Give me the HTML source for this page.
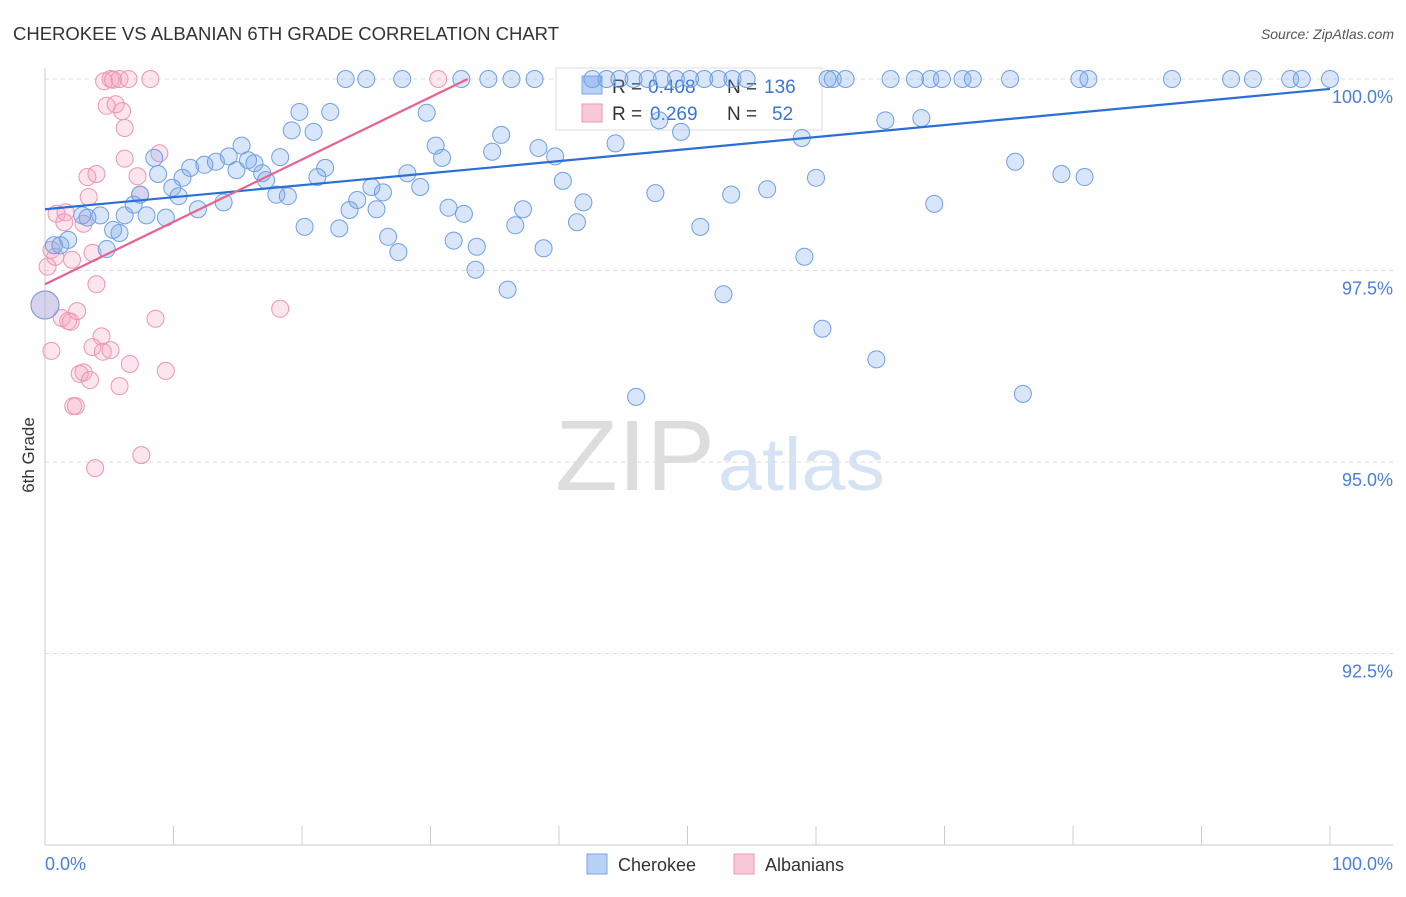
<!DOCTYPE html>
<html><head><meta charset="utf-8"><style>
body{margin:0;background:#fff;font-family:"Liberation Sans",sans-serif}
svg text{font-family:"Liberation Sans",sans-serif}
</style></head><body>
<svg id="chart" width="1406" height="892" xmlns="http://www.w3.org/2000/svg">
<text x="13" y="40" font-size="18" fill="#333" textLength="546" lengthAdjust="spacingAndGlyphs">CHEROKEE VS ALBANIAN 6TH GRADE CORRELATION CHART</text>
<text x="1394" y="39" font-size="14" fill="#555" text-anchor="end" font-style="italic">Source: ZipAtlas.com</text>
<g>
<text x="555" y="490" font-size="100" fill="#ddd" font-family="Liberation Serif" textLength="160" lengthAdjust="spacingAndGlyphs">ZIP</text>
<text x="718" y="490" font-size="74" fill="#d5e3f5" textLength="167" lengthAdjust="spacingAndGlyphs">atlas</text>
</g>
<text transform="translate(34,455) rotate(-90)" font-size="17" fill="#333" text-anchor="middle">6th Grade</text>
<g id="grid"></g><g id="axes"></g>
<g>
<rect x="556" y="68" width="266" height="62" fill="#fff" stroke="#ddd"/>
<rect x="582" y="76" width="20" height="18" fill="#b8d0f5" stroke="#7aa6e8"/>
<rect x="582" y="104" width="20" height="18" fill="#f9c8d7" stroke="#ee9ab5"/>
<text y="93" font-size="19" fill="#333"><tspan x="612">R =</tspan><tspan x="648" fill="#3b73d6">0.408</tspan><tspan x="727">N =</tspan><tspan x="764" fill="#3b73d6">136</tspan></text>
<text y="120" font-size="19" fill="#333"><tspan x="612">R =</tspan><tspan x="650" fill="#3b73d6">0.269</tspan><tspan x="727">N =</tspan><tspan x="772" fill="#3b73d6">52</tspan></text>
</g>
<g id="pink"></g><g id="blue"></g><g id="lines"></g>
<g>
<rect x="587" y="854" width="20" height="20" fill="#b8d0f5" stroke="#7aa6e8"/>
<text x="618" y="871" font-size="18" fill="#333">Cherokee</text>
<rect x="734" y="854" width="20" height="20" fill="#f9c8d7" stroke="#ee9ab5"/>
<text x="765" y="871" font-size="18" fill="#333">Albanians</text>
</g>
</svg>
<script>
const yTicks=[100,97.5,95,92.5];
const yTickLabels=["100.0%","97.5%","95.0%","92.5%"];
const blueTopX=[23.4,25.0,27.8,32.4,34.5,36.3,38.1,42.6,43.7,44.7,45.8,46.9,48.0,49.1,50.2,51.3,52.4,53.5,54.6,60.9,61.3,62.3,65.8,67.7,68.9,69.8,71.4,72.2,75.1,80.5,81.2,87.7,92.3,94.0,96.9,97.8,100];
const blueX=[0.7,1.2,1.8,2.9,3.3,4.3,4.8,5.3,5.8,6.2,6.9,7.4,7.9,8.5,8.8,9.4,9.9,10.4,10.7,11.3,11.9,12.4,13.3,13.9,14.3,15.3,14.9,15.8,16.3,16.9,17.2,18.0,18.3,18.9,19.2,19.8,20.2,20.9,21.2,21.8,22.2,22.9,23.7,24.3,25.4,25.8,26.3,26.7,27.5,28.2,29.2,29.7,30.4,30.9,31.4,31.8,32.6,33.5,33.6,34.8,35.5,36.0,36.6,37.2,38.4,38.8,39.7,40.3,41.4,41.9,44.4,46.0,47.5,47.8,49.5,51.0,52.8,53.4,56.2,58.9,59.1,60.0,60.5,64.7,65.4,68.2,69.2,75.5,76.1,79.1,80.9];
const blueY=[97.83,97.83,97.90,98.22,98.19,98.22,97.78,98.03,97.99,98.22,98.36,98.49,98.22,98.97,98.76,98.19,98.58,98.47,98.71,98.84,98.30,98.88,98.92,98.39,98.99,99.13,98.81,98.94,98.90,98.77,98.68,98.49,98.98,98.47,99.33,99.57,98.07,99.31,98.72,98.84,99.57,98.05,98.29,98.42,98.59,98.30,98.52,97.94,97.74,98.77,98.59,99.56,99.13,98.97,98.32,97.89,98.24,97.51,97.81,99.05,99.27,97.25,98.09,98.30,99.10,97.79,98.99,98.67,98.13,98.39,99.16,95.85,98.51,99.46,99.31,98.07,97.19,98.49,98.56,99.23,97.68,98.71,96.74,96.34,99.46,99.49,98.37,98.92,95.89,98.76,98.72];
const pinkX=[0.2,0.5,0.5,0.8,0.9,1.3,1.5,1.6,1.8,2.0,2.1,2.2,2.4,2.5,2.7,3.0,3.0,3.3,3.4,3.5,3.7,3.7,3.9,4.0,4.0,4.4,4.5,4.6,4.8,5.1,5.1,5.3,5.5,5.8,5.8,6.0,6.2,6.2,6.5,6.6,7.2,7.4,7.5,8.2,8.6,8.9,9.4,18.3,30.6];
const pinkY=[97.55,96.45,97.77,97.68,98.24,96.88,98.13,98.26,96.84,96.83,97.64,95.73,95.73,96.97,96.15,96.17,98.11,98.72,98.46,96.07,97.73,96.50,94.92,97.32,98.76,96.64,96.44,99.97,99.65,96.46,100,99.99,99.67,95.99,100,99.58,99.36,98.96,100,96.28,98.73,98.49,95.09,100,96.87,99.03,96.19,97.00,100];
const blueTrend=[98.30,99.87];
const pinkTrend=[97.32,100];
const pinkTrendEndX=32.9;
const X=v=>45+v*12.85, Y=v=>79+(100-v)*76.6;
const NS="http://www.w3.org/2000/svg";
function mk(p,t,a){const e=document.createElementNS(NS,t);for(const k in a)e.setAttribute(k,a[k]);document.getElementById(p).appendChild(e);return e;}
yTicks.forEach((t,i)=>{
 const l=mk('grid','line',{x1:45,x2:1393,y1:Y(t),y2:Y(t),stroke:'#ddd','stroke-dasharray':'4,4'});
 
 
 const tx=mk('grid','text',{x:1393,y:Y(t)+24,'font-size':18,fill:'#4a7fd8','text-anchor':'end'});
 tx.textContent=yTickLabels[i];
 
 
});
const ax=mk('axes','line',{x1:45,x2:1393,y1:845,y2:845,stroke:'#ccc'});


const ay=mk('axes','line',{x1:45,x2:45,y1:68,y2:845,stroke:'#ccc'});


for(let i=0;i<=10;i++){const t=mk('axes','line',{x1:X(i*10),x2:X(i*10),y1:826,y2:845,stroke:'#ccc'});
 
 }
[["0.0%",45,'start'],["100.0%",1393,'end']].forEach(a=>{const t=mk('axes','text',{x:a[1],y:870,'font-size':18,fill:'#4a7fd8','text-anchor':a[2]});t.textContent=a[0];
 
 });
function dot(g,x,y,r,f,s,n){const c=mk(g,'circle',{cx:X(x),cy:Y(y),r:r,fill:f,stroke:s,'stroke-width':1});
 
 }
pinkX.forEach((x,i)=>dot('pink',x,pinkY[i],8.5,'rgba(245,160,190,0.28)','#ec95b3','albanians-point'));
dot('pink',0,97.05,14,'rgba(245,160,190,0.28)','#ec95b3','albanians-point');
blueTopX.forEach(x=>dot('blue',x,100,8.5,'rgba(120,165,235,0.28)','#6f9fe3','cherokee-point'));
blueX.forEach((x,i)=>dot('blue',x,blueY[i],8.5,'rgba(120,165,235,0.28)','#6f9fe3','cherokee-point'));
dot('blue',0,97.05,14,'rgba(120,165,235,0.28)','#6f9fe3','cherokee-point');
const bl=mk('lines','line',{x1:X(0),y1:Y(blueTrend[0]),x2:X(100),y2:Y(blueTrend[1]),stroke:'#2a6fd6','stroke-width':2.2});


const pl=mk('lines','line',{x1:X(0),y1:Y(pinkTrend[0]),x2:X(pinkTrendEndX),y2:Y(pinkTrend[1]),stroke:'#e8628f','stroke-width':2.2});


</script>
</body></html>
